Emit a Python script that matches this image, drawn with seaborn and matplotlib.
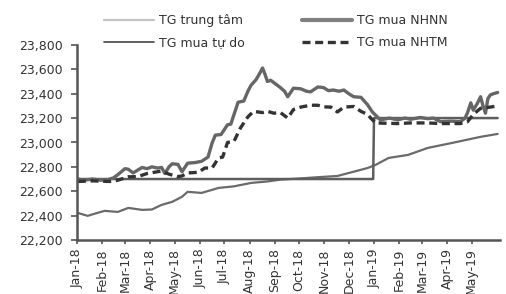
import matplotlib
matplotlib.use("Agg")
import matplotlib.pyplot as plt
from matplotlib.lines import Line2D
import pandas as pd
import seaborn as sns

# ---- data ----
free_dates = ["2018-01-02", "2018-01-10", "2018-01-20", "2018-01-30", "2018-02-08", "2018-02-15",
              "2018-02-20", "2018-03-01", "2018-03-05", "2018-03-11", "2018-03-17", "2018-03-22",
              "2018-03-28", "2018-04-03", "2018-04-10", "2018-04-15", "2018-04-19", "2018-04-24",
              "2018-04-28", "2018-05-05", "2018-05-10", "2018-05-17", "2018-05-26", "2018-06-03",
              "2018-06-11", "2018-06-16", "2018-06-20", "2018-06-27", "2018-07-05", "2018-07-09",
              "2018-07-13", "2018-07-18", "2018-07-25", "2018-07-30", "2018-08-03", "2018-08-09",
              "2018-08-13", "2018-08-17", "2018-08-20", "2018-08-23", "2018-08-27", "2018-08-31",
              "2018-09-08", "2018-09-13", "2018-09-17", "2018-09-24", "2018-10-03", "2018-10-10",
              "2018-10-15", "2018-10-24", "2018-10-31", "2018-11-06", "2018-11-12", "2018-11-19",
              "2018-11-25", "2018-12-01", "2018-12-07", "2018-12-16", "2018-12-24", "2018-12-30",
              "2019-01-05", "2019-01-09", "2019-01-20", "2019-01-30", "2019-02-08", "2019-02-15",
              "2019-02-27", "2019-03-08", "2019-03-15", "2019-03-24", "2019-04-05", "2019-04-17",
              "2019-04-23", "2019-04-26", "2019-04-30", "2019-05-03", "2019-05-08", "2019-05-12",
              "2019-05-15", "2019-05-18", "2019-05-21", "2019-05-24", "2019-05-28", "2019-06-02"]
free_values = [22700, 22690, 22700, 22690, 22695, 22710,
               22735, 22785, 22780, 22750, 22775, 22795,
               22785, 22800, 22790, 22795, 22745, 22800,
               22825, 22820, 22760, 22830, 22835, 22845,
               22880, 22995, 23060, 23065, 23145, 23150,
               23230, 23330, 23340, 23420, 23470, 23515,
               23560, 23610, 23560, 23500, 23510, 23490,
               23450, 23420, 23375, 23445, 23440, 23420,
               23415, 23455, 23450, 23425, 23430, 23420,
               23430, 23400, 23375, 23370, 23310, 23250,
               23210, 23185, 23200, 23185, 23200, 23190,
               23205, 23195, 23200, 23170, 23175, 23170,
               23200, 23245, 23325, 23265, 23320, 23375,
               23300, 23240, 23360, 23390, 23400, 23410]

nhtm_dates = ["2018-01-02", "2018-01-20", "2018-02-10", "2018-02-20", "2018-03-05", "2018-03-17",
              "2018-03-28", "2018-04-10", "2018-04-15", "2018-04-24", "2018-05-05", "2018-05-10",
              "2018-05-17", "2018-05-30", "2018-06-07", "2018-06-16", "2018-06-24", "2018-06-29",
              "2018-07-05", "2018-07-13", "2018-07-21", "2018-07-30", "2018-08-06", "2018-08-17",
              "2018-08-23", "2018-08-31", "2018-09-08", "2018-09-17", "2018-09-24", "2018-10-03",
              "2018-10-15", "2018-10-24", "2018-10-31", "2018-11-09", "2018-11-17", "2018-11-25",
              "2018-12-07", "2018-12-16", "2018-12-24", "2018-12-28", "2019-01-03", "2019-01-30",
              "2019-02-15", "2019-03-08", "2019-03-24", "2019-04-17", "2019-04-26", "2019-05-03",
              "2019-05-12", "2019-05-24", "2019-06-02"]
nhtm_values = [22680, 22685, 22680, 22690, 22718, 22720,
               22745, 22760, 22765, 22740, 22720, 22725,
               22750, 22755, 22790, 22790, 22873, 22880,
               23000, 23010, 23120, 23210, 23255, 23245,
               23255, 23240, 23245, 23200, 23270, 23290,
               23305, 23305, 23292, 23290, 23250, 23290,
               23295, 23255, 23230, 23200, 23160, 23155,
               23160, 23160, 23155, 23155, 23170, 23230,
               23280, 23290, 23300]

central_dates = ["2018-01-02", "2018-01-14", "2018-01-25", "2018-02-04", "2018-02-20", "2018-03-05",
                 "2018-03-22", "2018-04-03", "2018-04-15", "2018-04-28", "2018-05-10", "2018-05-17",
                 "2018-06-03", "2018-06-16", "2018-06-24", "2018-07-13", "2018-08-03", "2018-08-23",
                 "2018-09-08", "2018-10-03", "2018-10-24", "2018-11-17", "2018-12-07", "2018-12-24",
                 "2019-01-03", "2019-01-19", "2019-02-12", "2019-03-08", "2019-04-07", "2019-05-12",
                 "2019-06-02"]
central_values = [22422, 22398, 22420, 22439, 22430, 22463,
                  22447, 22450, 22488, 22513, 22554, 22595,
                  22586, 22611, 22627, 22640, 22668, 22680,
                  22695, 22705, 22715, 22725, 22760, 22790,
                  22816, 22873, 22898, 22955, 22996, 23046,
                  23070]

sbv_dates = ["2018-01-02", "2018-12-31", "2019-01-01", "2019-06-02"]
sbv_values = [22700, 22700, 23200, 23200]

labels = ["TG trung tâm", "TG mua tự do", "TG mua NHNN", "TG mua NHTM"]
yticks = [22200, 22400, 22600, 22800, 23000, 23200, 23400, 23600, 23800]
ytick_labels = ["22,200", "22,400", "22,600", "22,800", "23,000", "23,200", "23,400", "23,600", "23,800"]
month_ticks = ["2018-01-01", "2018-02-01", "2018-03-01", "2018-04-01", "2018-05-01", "2018-06-01",
               "2018-07-01", "2018-08-01", "2018-09-01", "2018-10-01", "2018-11-01", "2018-12-01",
               "2019-01-01", "2019-02-01", "2019-03-01", "2019-04-01", "2019-05-01"]
month_labels = ["Jan-18", "Feb-18", "Mar-18", "Apr-18", "May-18", "Jun-18", "Jul-18", "Aug-18",
                "Sep-18", "Oct-18", "Nov-18", "Dec-18", "Jan-19", "Feb-19", "Mar-19", "Apr-19",
                "May-19"]

# ---- figure ----
sns.set_theme(style="white")
text_c = "#333333"
axis_c = "#555555"
fig = plt.figure(figsize=(5.061, 2.941), dpi=100, facecolor="white")
ax = fig.add_axes([77 / 506, 1 - 240 / 294, (500 - 77) / 506, (240 - 45) / 294])


def frame(d, v):
    return pd.DataFrame({"date": pd.to_datetime(d), "value": v})


sns.lineplot(data=frame(central_dates, central_values), x="date", y="value", ax=ax,
             color="#6a6a6a", linewidth=1.6, estimator=None)
sns.lineplot(data=frame(sbv_dates, sbv_values), x="date", y="value", ax=ax,
             color="#5e5e5e", linewidth=1.8, estimator=None)
sns.lineplot(data=frame(free_dates, free_values), x="date", y="value", ax=ax,
             color="#666666", linewidth=2.4, estimator=None)
sns.lineplot(data=frame(nhtm_dates, nhtm_values), x="date", y="value", ax=ax,
             color="#333333", linewidth=2.4, linestyle=(0, (2.4, 1.4)), estimator=None)

ax.set_xlim(pd.Timestamp("2018-01-01"), pd.Timestamp("2019-06-05"))
ax.set_ylim(22200, 23800)
ax.set_yticks(yticks, ytick_labels, fontsize=9, color=text_c)
ax.set_xticks(pd.to_datetime(month_ticks), month_labels, rotation=90, fontsize=9, color=text_c)
ax.set_xlabel("")
ax.set_ylabel("")
ax.spines["top"].set_visible(False)
ax.spines["right"].set_visible(False)
for s in ["left", "bottom"]:
    ax.spines[s].set_color(axis_c)
    ax.spines[s].set_linewidth(1.8)
ax.tick_params(axis="y", left=True, length=4, width=1.2, color=axis_c, pad=6)
ax.tick_params(axis="x", bottom=True, length=3, width=1.2, color=axis_c, pad=3)

handles = [
    Line2D([], [], color="#c4c4c4", linewidth=1.6),
    Line2D([], [], color="#444444", linewidth=1.2),
    Line2D([], [], color="#808080", linewidth=3.0),
    Line2D([], [], color="#333333", linewidth=2.4, linestyle=(0, (2.4, 1.4))),
]
leg = ax.legend(handles, labels, ncol=2, loc="upper left",
                bbox_to_anchor=((104 - 77) / 423, 1 + (45 - 14) / 195),
                frameon=False, fontsize=9, handlelength=4.0, handletextpad=0.4,
                columnspacing=4.6, labelspacing=0.75, borderpad=0, borderaxespad=0)
for t in leg.get_texts():
    t.set_color(text_c)

fig.savefig("out.png", dpi=100, facecolor="white")
